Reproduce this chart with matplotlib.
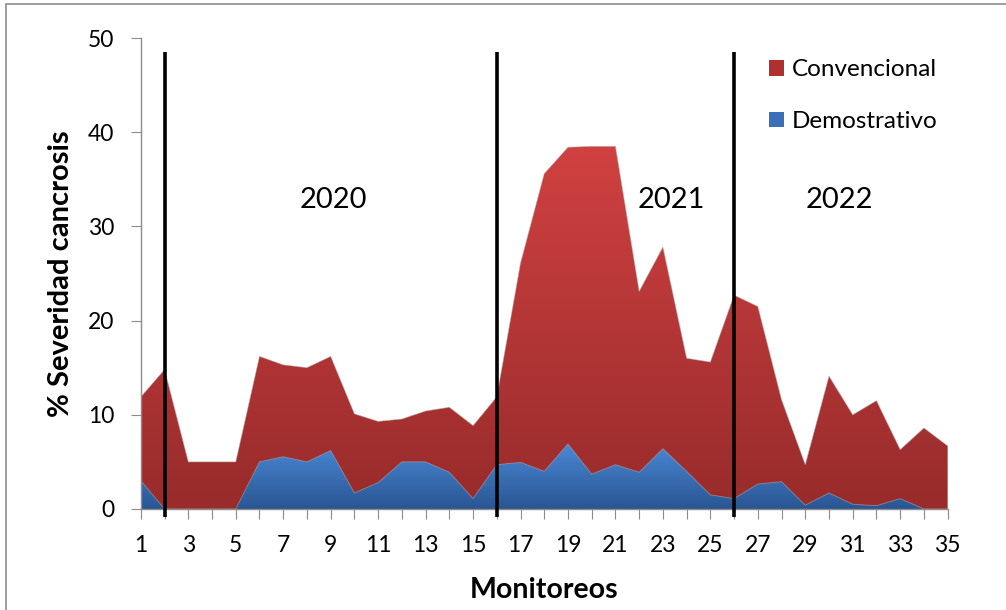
import numpy as np
import matplotlib
matplotlib.use("Agg")
import matplotlib.pyplot as plt
from matplotlib.colors import LinearSegmentedColormap
from matplotlib.patches import Rectangle

plt.rcParams['font.family'] = ['Lato', 'DejaVu Sans']

monitoreos = list(range(1, 36))
convencional = [11.9, 14.8, 5.0, 5.0, 5.0, 16.2, 15.3, 15.0, 16.2, 10.1,
                9.3, 9.55, 10.4, 10.8, 8.85, 11.9, 26.1, 35.6, 38.4, 38.5,
                38.5, 23.1, 27.8, 16.0, 15.6, 22.7, 21.5, 11.6, 4.7, 14.1,
                10.0, 11.5, 6.3, 8.6, 6.7]
demostrativo = [3.0, 0.0, 0.0, 0.0, 0.0, 5.0, 5.55, 5.0, 6.2, 1.7,
                2.8, 5.0, 5.0, 3.9, 1.1, 4.7, 4.95, 4.0, 6.9, 3.7,
                4.7, 3.9, 6.4, 4.0, 1.5, 1.1, 2.65, 2.9, 0.4, 1.7,
                0.5, 0.35, 1.1, 0.0, 0.0]
series_names = ["Convencional", "Demostrativo"]
year_labels = ["2020", "2021", "2022"]
year_label_x = [9.1, 23.35, 30.45]
divider_x = [2, 16, 26]
yticks = [0, 10, 20, 30, 40, 50]

fig = plt.figure(figsize=(10.06, 6.10), dpi=100)
ax = fig.add_axes([0.140, 0.1656, 0.802, 0.7721])

x = np.array(monitoreos, dtype=float)

def grad_fill(yvals, top_color, bottom_color, z):
    poly = ax.fill_between(x, 0, yvals, color='none', linewidth=0, zorder=z)
    cmap = LinearSegmentedColormap.from_list('g', [bottom_color, top_color])
    grad = np.linspace(0, 1, 256).reshape(-1, 1)
    im = ax.imshow(grad, cmap=cmap, aspect='auto', origin='lower',
                   extent=[1, 35, 0, max(yvals)], zorder=z)
    im.set_clip_path(poly.get_paths()[0], transform=ax.transData)
    ax.plot(x, yvals, color='#b0b0b0', linewidth=0.6, alpha=0.6, zorder=z + 0.1)

grad_fill(convencional, '#d04141', '#982b2b', 1)
grad_fill(demostrativo, '#4a88d4', '#2a5592', 2)
ax.set_xlim(1, 35)
ax.set_ylim(0, 50)

for dx in divider_x:
    ax.plot([dx, dx], [-0.9, 48.5], color='black', linewidth=2.6,
            zorder=5, clip_on=False, solid_capstyle='butt')

for lbl, lx in zip(year_labels, year_label_x):
    ax.text(lx, 32.8, lbl, fontsize=21, ha='center', va='center', zorder=6)

for s in ['top', 'right']:
    ax.spines[s].set_visible(False)
for s in ['left', 'bottom']:
    ax.spines[s].set_color('#8c8c8c')
    ax.spines[s].set_linewidth(1.0)

ax.set_yticks(yticks)
ax.set_xticks(monitoreos)
ax.set_xticklabels([str(m) if m % 2 == 1 else '' for m in monitoreos])
ax.tick_params(axis='both', direction='out', color='#8c8c8c', length=7,
               labelsize=16.5, labelcolor='black')
ax.tick_params(axis='x', pad=12)
ax.tick_params(axis='y', pad=12)

ax.set_ylabel('% Severidad cancrosis', fontsize=21, fontweight='bold', labelpad=10)
ax.set_xlabel('Monitoreos', fontsize=20.5, fontweight='bold', labelpad=15)

# legend
handles = [Rectangle((0, 0), 1, 1, facecolor='#b03030', edgecolor='none'),
           Rectangle((0, 0), 1, 1, facecolor='#3a70b8', edgecolor='none')]
leg = ax.legend(handles, series_names, loc='upper left',
                bbox_to_anchor=(0.778, 0.955), frameon=False, fontsize=17.5,
                handlelength=0.62, handleheight=0.62, handletextpad=0.35,
                labelspacing=1.27, borderpad=0, borderaxespad=0)

fig.patches.append(Rectangle((0.006, -0.01), 1.2, 1.004, transform=fig.transFigure,
                             fill=False, edgecolor='#8c8c8c', linewidth=1.2))

fig.savefig('out.png', dpi=100)
